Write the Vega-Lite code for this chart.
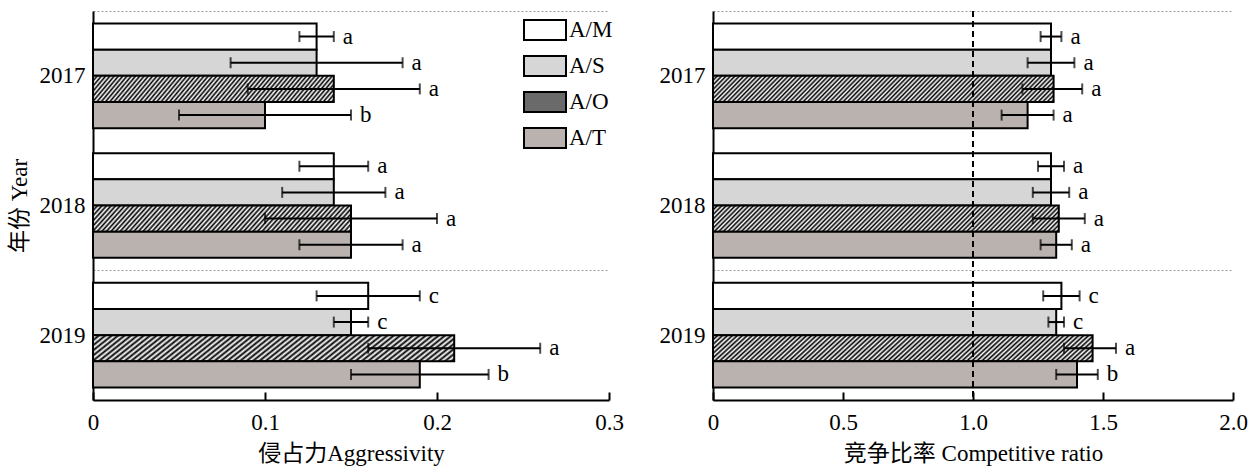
{
  "$schema": "https://vega.github.io/schema/vega-lite/v6.json",
  "padding": {"left": 8, "top": 0, "right": 5, "bottom": 5},
  "bounds": "flush",
  "spacing": 104,
  "config": {
    "font": "Liberation Serif",
    "view": {"stroke": null},
    "axis": {
      "labelFont": "Liberation Serif",
      "titleFont": "'Liberation Serif', 'Noto Sans CJK SC'",
      "labelFontSize": 23,
      "titleFontSize": 23,
      "titleFontWeight": "normal",
      "labelColor": "#000",
      "titleColor": "#000",
      "domainColor": "#000",
      "domainWidth": 2,
      "tickColor": "#000",
      "tickWidth": 2
    }
  },
  "datasets": {
    "agg": [
      {"year": "2017", "trt": "A/M", "v": 0.13, "lo": 0.12, "hi": 0.14, "sig": "a"},
      {"year": "2017", "trt": "A/S", "v": 0.13, "lo": 0.08, "hi": 0.18, "sig": "a"},
      {"year": "2017", "trt": "A/O", "v": 0.14, "lo": 0.09, "hi": 0.19, "sig": "a"},
      {"year": "2017", "trt": "A/T", "v": 0.10, "lo": 0.05, "hi": 0.15, "sig": "b"},
      {"year": "2018", "trt": "A/M", "v": 0.14, "lo": 0.12, "hi": 0.16, "sig": "a"},
      {"year": "2018", "trt": "A/S", "v": 0.14, "lo": 0.11, "hi": 0.17, "sig": "a"},
      {"year": "2018", "trt": "A/O", "v": 0.15, "lo": 0.10, "hi": 0.20, "sig": "a"},
      {"year": "2018", "trt": "A/T", "v": 0.15, "lo": 0.12, "hi": 0.18, "sig": "a"},
      {"year": "2019", "trt": "A/M", "v": 0.16, "lo": 0.13, "hi": 0.19, "sig": "c"},
      {"year": "2019", "trt": "A/S", "v": 0.15, "lo": 0.14, "hi": 0.16, "sig": "c"},
      {"year": "2019", "trt": "A/O", "v": 0.21, "lo": 0.16, "hi": 0.26, "sig": "a"},
      {"year": "2019", "trt": "A/T", "v": 0.19, "lo": 0.15, "hi": 0.23, "sig": "b"}
    ],
    "cr": [
      {"year": "2017", "trt": "A/M", "v": 1.30, "lo": 1.26, "hi": 1.34, "sig": "a"},
      {"year": "2017", "trt": "A/S", "v": 1.30, "lo": 1.21, "hi": 1.39, "sig": "a"},
      {"year": "2017", "trt": "A/O", "v": 1.31, "lo": 1.19, "hi": 1.42, "sig": "a"},
      {"year": "2017", "trt": "A/T", "v": 1.21, "lo": 1.11, "hi": 1.31, "sig": "a"},
      {"year": "2018", "trt": "A/M", "v": 1.30, "lo": 1.25, "hi": 1.35, "sig": "a"},
      {"year": "2018", "trt": "A/S", "v": 1.30, "lo": 1.23, "hi": 1.37, "sig": "a"},
      {"year": "2018", "trt": "A/O", "v": 1.33, "lo": 1.23, "hi": 1.43, "sig": "a"},
      {"year": "2018", "trt": "A/T", "v": 1.32, "lo": 1.26, "hi": 1.38, "sig": "a"},
      {"year": "2019", "trt": "A/M", "v": 1.34, "lo": 1.27, "hi": 1.41, "sig": "c"},
      {"year": "2019", "trt": "A/S", "v": 1.32, "lo": 1.29, "hi": 1.35, "sig": "c"},
      {"year": "2019", "trt": "A/O", "v": 1.46, "lo": 1.35, "hi": 1.55, "sig": "a"},
      {"year": "2019", "trt": "A/T", "v": 1.40, "lo": 1.32, "hi": 1.48, "sig": "b"}
    ]
  },
  "hconcat": [
    {
      "width": 516,
      "height": 389,
      "data": {"name": "agg"},
      "encoding": {
        "y": {
          "field": "year", "type": "nominal",
          "scale": {"domain": ["2017", "2018", "2019"], "paddingInner": 0, "paddingOuter": 0},
          "axis": {
            "title": "年份 Year", "titlePadding": 8, "labelPadding": 8, "ticks": false, "labelAngle": 0,
            "tickBand": "extent", "grid": true, "gridColor": "#9a9a9a", "gridDash": [2, 2], "gridWidth": 1,
            "gridOpacity": {"condition": {"test": "datum.value === '2017'", "value": 0}, "value": 1}
          }
        },
        "yOffset": {
          "field": "trt", "type": "nominal",
          "scale": {"domain": ["A/M", "A/S", "A/O", "A/T"], "paddingInner": 0, "paddingOuter": 0.476}
        }
      },
      "layer": [
        {
          "mark": {"type": "bar", "stroke": "#000", "strokeWidth": 2},
          "encoding": {
            "x": {
              "field": "v", "type": "quantitative",
              "scale": {"domain": [0, 0.3], "nice": false, "zero": true},
              "axis": {"title": "侵占力Aggressivity", "values": [0, 0.1, 0.2, 0.3], "labelExpr": "datum.value === 0 ? '0' : format(datum.value, '.1f')", "tickSize": -8, "labelPadding": 19, "titlePadding": 8, "grid": false, "labelFlush": false, "labelOverlap": false}
            },
            "fill": {
              "condition": {
                "test": "datum.trt === 'A/O'",
                "value": {"gradient": "linear", "x1": 0, "y1": 0, "x2": 1.1, "y2": 0.1, "stops": [
                  {"offset": 0, "color": "#000"}, {"offset": 0.008, "color": "#fff"},
                  {"offset": 0.016, "color": "#000"}, {"offset": 0.024, "color": "#fff"},
                  {"offset": 0.032, "color": "#000"}, {"offset": 0.04, "color": "#fff"},
                  {"offset": 0.048, "color": "#000"}, {"offset": 0.056, "color": "#fff"},
                  {"offset": 0.064, "color": "#000"}, {"offset": 0.072, "color": "#fff"},
                  {"offset": 0.08, "color": "#000"}, {"offset": 0.088, "color": "#fff"},
                  {"offset": 0.096, "color": "#000"}, {"offset": 0.104, "color": "#fff"},
                  {"offset": 0.112, "color": "#000"}, {"offset": 0.12, "color": "#fff"},
                  {"offset": 0.128, "color": "#000"}, {"offset": 0.136, "color": "#fff"},
                  {"offset": 0.144, "color": "#000"}, {"offset": 0.152, "color": "#fff"},
                  {"offset": 0.16, "color": "#000"}, {"offset": 0.168, "color": "#fff"},
                  {"offset": 0.176, "color": "#000"}, {"offset": 0.184, "color": "#fff"},
                  {"offset": 0.192, "color": "#000"}, {"offset": 0.2, "color": "#fff"},
                  {"offset": 0.208, "color": "#000"}, {"offset": 0.216, "color": "#fff"},
                  {"offset": 0.224, "color": "#000"}, {"offset": 0.232, "color": "#fff"},
                  {"offset": 0.24, "color": "#000"}, {"offset": 0.248, "color": "#fff"},
                  {"offset": 0.256, "color": "#000"}, {"offset": 0.264, "color": "#fff"},
                  {"offset": 0.272, "color": "#000"}, {"offset": 0.28, "color": "#fff"},
                  {"offset": 0.288, "color": "#000"}, {"offset": 0.296, "color": "#fff"},
                  {"offset": 0.304, "color": "#000"}, {"offset": 0.312, "color": "#fff"},
                  {"offset": 0.32, "color": "#000"}, {"offset": 0.328, "color": "#fff"},
                  {"offset": 0.336, "color": "#000"}, {"offset": 0.344, "color": "#fff"},
                  {"offset": 0.352, "color": "#000"}, {"offset": 0.36, "color": "#fff"},
                  {"offset": 0.368, "color": "#000"}, {"offset": 0.376, "color": "#fff"},
                  {"offset": 0.384, "color": "#000"}, {"offset": 0.392, "color": "#fff"},
                  {"offset": 0.4, "color": "#000"}, {"offset": 0.408, "color": "#fff"},
                  {"offset": 0.416, "color": "#000"}, {"offset": 0.424, "color": "#fff"},
                  {"offset": 0.432, "color": "#000"}, {"offset": 0.44, "color": "#fff"},
                  {"offset": 0.448, "color": "#000"}, {"offset": 0.456, "color": "#fff"},
                  {"offset": 0.464, "color": "#000"}, {"offset": 0.472, "color": "#fff"},
                  {"offset": 0.48, "color": "#000"}, {"offset": 0.488, "color": "#fff"},
                  {"offset": 0.496, "color": "#000"}, {"offset": 0.504, "color": "#fff"},
                  {"offset": 0.512, "color": "#000"}, {"offset": 0.52, "color": "#fff"},
                  {"offset": 0.528, "color": "#000"}, {"offset": 0.536, "color": "#fff"},
                  {"offset": 0.544, "color": "#000"}, {"offset": 0.552, "color": "#fff"},
                  {"offset": 0.56, "color": "#000"}, {"offset": 0.568, "color": "#fff"},
                  {"offset": 0.576, "color": "#000"}, {"offset": 0.584, "color": "#fff"},
                  {"offset": 0.592, "color": "#000"}, {"offset": 0.6, "color": "#fff"},
                  {"offset": 0.608, "color": "#000"}, {"offset": 0.616, "color": "#fff"},
                  {"offset": 0.624, "color": "#000"}, {"offset": 0.632, "color": "#fff"},
                  {"offset": 0.64, "color": "#000"}, {"offset": 0.648, "color": "#fff"},
                  {"offset": 0.656, "color": "#000"}, {"offset": 0.664, "color": "#fff"},
                  {"offset": 0.672, "color": "#000"}, {"offset": 0.68, "color": "#fff"},
                  {"offset": 0.688, "color": "#000"}, {"offset": 0.696, "color": "#fff"},
                  {"offset": 0.704, "color": "#000"}, {"offset": 0.712, "color": "#fff"},
                  {"offset": 0.72, "color": "#000"}, {"offset": 0.728, "color": "#fff"},
                  {"offset": 0.736, "color": "#000"}, {"offset": 0.744, "color": "#fff"},
                  {"offset": 0.752, "color": "#000"}, {"offset": 0.76, "color": "#fff"},
                  {"offset": 0.768, "color": "#000"}, {"offset": 0.776, "color": "#fff"},
                  {"offset": 0.784, "color": "#000"}, {"offset": 0.792, "color": "#fff"},
                  {"offset": 0.8, "color": "#000"}, {"offset": 0.808, "color": "#fff"},
                  {"offset": 0.816, "color": "#000"}, {"offset": 0.824, "color": "#fff"},
                  {"offset": 0.832, "color": "#000"}, {"offset": 0.84, "color": "#fff"},
                  {"offset": 0.848, "color": "#000"}, {"offset": 0.856, "color": "#fff"},
                  {"offset": 0.864, "color": "#000"}, {"offset": 0.872, "color": "#fff"},
                  {"offset": 0.88, "color": "#000"}, {"offset": 0.888, "color": "#fff"},
                  {"offset": 0.896, "color": "#000"}, {"offset": 0.904, "color": "#fff"},
                  {"offset": 0.912, "color": "#000"}, {"offset": 0.92, "color": "#fff"},
                  {"offset": 0.928, "color": "#000"}, {"offset": 0.936, "color": "#fff"},
                  {"offset": 0.944, "color": "#000"}, {"offset": 0.952, "color": "#fff"},
                  {"offset": 0.96, "color": "#000"}, {"offset": 0.968, "color": "#fff"},
                  {"offset": 0.976, "color": "#000"}, {"offset": 0.984, "color": "#fff"},
                  {"offset": 0.992, "color": "#000"}, {"offset": 1, "color": "#fff"}
                ]}
              },
              "field": "trt", "type": "nominal",
              "scale": {"domain": ["A/M", "A/S", "A/O", "A/T"], "range": ["#ffffff", "#d6d6d6", "#6a6a6a", "#b9b2ae"]},
              "legend": {
                "orient": "none", "legendX": 430, "legendY": -3, "title": null, "padding": 0,
                "symbolType": "M-1,-0.476H1V0.476H-1Z", "symbolSize": 1764,
                "symbolStrokeColor": "#000", "symbolStrokeWidth": 2, "symbolOpacity": 1,
                "labelFont": "Liberation Serif", "labelFontSize": 23, "labelColor": "#000",
                "labelOffset": 2, "rowPadding": -32
              }
            }
          }
        },
        {
          "mark": {"type": "rule", "color": "#000", "strokeWidth": 2},
          "encoding": {
            "x": {"field": "lo", "type": "quantitative", "title": "侵占力Aggressivity"},
            "x2": {"field": "hi"}
          }
        },
        {
          "mark": {"type": "tick", "color": "#000", "orient": "vertical", "size": 11, "thickness": 2},
          "encoding": {"x": {"field": "lo", "type": "quantitative", "title": "侵占力Aggressivity"}}
        },
        {
          "mark": {"type": "tick", "color": "#000", "orient": "vertical", "size": 11, "thickness": 2},
          "encoding": {"x": {"field": "hi", "type": "quantitative", "title": "侵占力Aggressivity"}}
        },
        {
          "mark": {"type": "text", "align": "left", "baseline": "middle", "dx": 9, "fontSize": 23, "font": "Liberation Serif", "color": "#000"},
          "encoding": {
            "x": {"field": "hi", "type": "quantitative", "title": "侵占力Aggressivity"},
            "text": {"field": "sig"}
          }
        }
      ]
    },
    {
      "width": 520,
      "height": 389,
      "layer": [
        {
          "data": {"name": "cr"},
          "encoding": {
            "y": {
              "field": "year", "type": "nominal",
              "scale": {"domain": ["2017", "2018", "2019"], "paddingInner": 0, "paddingOuter": 0},
              "axis": {
                "title": null, "labelPadding": 8, "ticks": false, "labelAngle": 0,
                "tickBand": "extent", "grid": true, "gridColor": "#9a9a9a", "gridDash": [2, 2], "gridWidth": 1,
                "gridOpacity": {"condition": {"test": "datum.value === '2017'", "value": 0}, "value": 1}
              }
            },
            "yOffset": {
              "field": "trt", "type": "nominal",
              "scale": {"domain": ["A/M", "A/S", "A/O", "A/T"], "paddingInner": 0, "paddingOuter": 0.476}
            }
          },
          "layer": [
            {
              "mark": {"type": "bar", "stroke": "#000", "strokeWidth": 2},
              "encoding": {
                "x": {
                  "field": "v", "type": "quantitative",
                  "scale": {"domain": [0, 2], "nice": false, "zero": true},
                  "axis": {"title": "竞争比率 Competitive ratio", "values": [0, 0.5, 1, 1.5, 2], "labelExpr": "datum.value === 0 ? '0' : format(datum.value, '.1f')", "tickSize": -8, "labelPadding": 19, "titlePadding": 8, "grid": false, "labelFlush": false, "labelOverlap": false}
                },
                "fill": {
                  "condition": {
                    "test": "datum.trt === 'A/O'",
                    "value": {"gradient": "linear", "x1": 0, "y1": 0, "x2": 1.08, "y2": 0.081, "stops": [
                      {"offset": 0, "color": "#000"}, {"offset": 0.006, "color": "#fff"},
                      {"offset": 0.012, "color": "#000"}, {"offset": 0.018, "color": "#fff"},
                      {"offset": 0.024, "color": "#000"}, {"offset": 0.03, "color": "#fff"},
                      {"offset": 0.036, "color": "#000"}, {"offset": 0.042, "color": "#fff"},
                      {"offset": 0.048, "color": "#000"}, {"offset": 0.054, "color": "#fff"},
                      {"offset": 0.06, "color": "#000"}, {"offset": 0.066, "color": "#fff"},
                      {"offset": 0.072, "color": "#000"}, {"offset": 0.078, "color": "#fff"},
                      {"offset": 0.084, "color": "#000"}, {"offset": 0.09, "color": "#fff"},
                      {"offset": 0.096, "color": "#000"}, {"offset": 0.102, "color": "#fff"},
                      {"offset": 0.108, "color": "#000"}, {"offset": 0.114, "color": "#fff"},
                      {"offset": 0.12, "color": "#000"}, {"offset": 0.126, "color": "#fff"},
                      {"offset": 0.132, "color": "#000"}, {"offset": 0.138, "color": "#fff"},
                      {"offset": 0.144, "color": "#000"}, {"offset": 0.15, "color": "#fff"},
                      {"offset": 0.156, "color": "#000"}, {"offset": 0.162, "color": "#fff"},
                      {"offset": 0.168, "color": "#000"}, {"offset": 0.174, "color": "#fff"},
                      {"offset": 0.18, "color": "#000"}, {"offset": 0.186, "color": "#fff"},
                      {"offset": 0.192, "color": "#000"}, {"offset": 0.198, "color": "#fff"},
                      {"offset": 0.204, "color": "#000"}, {"offset": 0.21, "color": "#fff"},
                      {"offset": 0.216, "color": "#000"}, {"offset": 0.222, "color": "#fff"},
                      {"offset": 0.228, "color": "#000"}, {"offset": 0.234, "color": "#fff"},
                      {"offset": 0.24, "color": "#000"}, {"offset": 0.246, "color": "#fff"},
                      {"offset": 0.252, "color": "#000"}, {"offset": 0.258, "color": "#fff"},
                      {"offset": 0.264, "color": "#000"}, {"offset": 0.27, "color": "#fff"},
                      {"offset": 0.276, "color": "#000"}, {"offset": 0.282, "color": "#fff"},
                      {"offset": 0.288, "color": "#000"}, {"offset": 0.294, "color": "#fff"},
                      {"offset": 0.3, "color": "#000"}, {"offset": 0.306, "color": "#fff"},
                      {"offset": 0.312, "color": "#000"}, {"offset": 0.318, "color": "#fff"},
                      {"offset": 0.324, "color": "#000"}, {"offset": 0.33, "color": "#fff"},
                      {"offset": 0.336, "color": "#000"}, {"offset": 0.342, "color": "#fff"},
                      {"offset": 0.348, "color": "#000"}, {"offset": 0.354, "color": "#fff"},
                      {"offset": 0.36, "color": "#000"}, {"offset": 0.366, "color": "#fff"},
                      {"offset": 0.372, "color": "#000"}, {"offset": 0.378, "color": "#fff"},
                      {"offset": 0.384, "color": "#000"}, {"offset": 0.39, "color": "#fff"},
                      {"offset": 0.396, "color": "#000"}, {"offset": 0.402, "color": "#fff"},
                      {"offset": 0.408, "color": "#000"}, {"offset": 0.414, "color": "#fff"},
                      {"offset": 0.42, "color": "#000"}, {"offset": 0.426, "color": "#fff"},
                      {"offset": 0.432, "color": "#000"}, {"offset": 0.438, "color": "#fff"},
                      {"offset": 0.444, "color": "#000"}, {"offset": 0.45, "color": "#fff"},
                      {"offset": 0.456, "color": "#000"}, {"offset": 0.462, "color": "#fff"},
                      {"offset": 0.468, "color": "#000"}, {"offset": 0.474, "color": "#fff"},
                      {"offset": 0.48, "color": "#000"}, {"offset": 0.486, "color": "#fff"},
                      {"offset": 0.492, "color": "#000"}, {"offset": 0.498, "color": "#fff"},
                      {"offset": 0.504, "color": "#000"}, {"offset": 0.51, "color": "#fff"},
                      {"offset": 0.516, "color": "#000"}, {"offset": 0.522, "color": "#fff"},
                      {"offset": 0.528, "color": "#000"}, {"offset": 0.534, "color": "#fff"},
                      {"offset": 0.54, "color": "#000"}, {"offset": 0.546, "color": "#fff"},
                      {"offset": 0.552, "color": "#000"}, {"offset": 0.558, "color": "#fff"},
                      {"offset": 0.564, "color": "#000"}, {"offset": 0.57, "color": "#fff"},
                      {"offset": 0.576, "color": "#000"}, {"offset": 0.582, "color": "#fff"},
                      {"offset": 0.588, "color": "#000"}, {"offset": 0.594, "color": "#fff"},
                      {"offset": 0.6, "color": "#000"}, {"offset": 0.606, "color": "#fff"},
                      {"offset": 0.612, "color": "#000"}, {"offset": 0.618, "color": "#fff"},
                      {"offset": 0.624, "color": "#000"}, {"offset": 0.63, "color": "#fff"},
                      {"offset": 0.636, "color": "#000"}, {"offset": 0.642, "color": "#fff"},
                      {"offset": 0.648, "color": "#000"}, {"offset": 0.654, "color": "#fff"},
                      {"offset": 0.66, "color": "#000"}, {"offset": 0.666, "color": "#fff"},
                      {"offset": 0.672, "color": "#000"}, {"offset": 0.678, "color": "#fff"},
                      {"offset": 0.684, "color": "#000"}, {"offset": 0.69, "color": "#fff"},
                      {"offset": 0.696, "color": "#000"}, {"offset": 0.702, "color": "#fff"},
                      {"offset": 0.708, "color": "#000"}, {"offset": 0.714, "color": "#fff"},
                      {"offset": 0.72, "color": "#000"}, {"offset": 0.726, "color": "#fff"},
                      {"offset": 0.732, "color": "#000"}, {"offset": 0.738, "color": "#fff"},
                      {"offset": 0.744, "color": "#000"}, {"offset": 0.75, "color": "#fff"},
                      {"offset": 0.756, "color": "#000"}, {"offset": 0.762, "color": "#fff"},
                      {"offset": 0.768, "color": "#000"}, {"offset": 0.774, "color": "#fff"},
                      {"offset": 0.78, "color": "#000"}, {"offset": 0.786, "color": "#fff"},
                      {"offset": 0.792, "color": "#000"}, {"offset": 0.798, "color": "#fff"},
                      {"offset": 0.804, "color": "#000"}, {"offset": 0.81, "color": "#fff"},
                      {"offset": 0.816, "color": "#000"}, {"offset": 0.822, "color": "#fff"},
                      {"offset": 0.828, "color": "#000"}, {"offset": 0.834, "color": "#fff"},
                      {"offset": 0.84, "color": "#000"}, {"offset": 0.846, "color": "#fff"},
                      {"offset": 0.852, "color": "#000"}, {"offset": 0.858, "color": "#fff"},
                      {"offset": 0.864, "color": "#000"}, {"offset": 0.87, "color": "#fff"},
                      {"offset": 0.876, "color": "#000"}, {"offset": 0.882, "color": "#fff"},
                      {"offset": 0.888, "color": "#000"}, {"offset": 0.894, "color": "#fff"},
                      {"offset": 0.9, "color": "#000"}, {"offset": 0.906, "color": "#fff"},
                      {"offset": 0.912, "color": "#000"}, {"offset": 0.918, "color": "#fff"},
                      {"offset": 0.924, "color": "#000"}, {"offset": 0.93, "color": "#fff"},
                      {"offset": 0.936, "color": "#000"}, {"offset": 0.942, "color": "#fff"},
                      {"offset": 0.948, "color": "#000"}, {"offset": 0.954, "color": "#fff"},
                      {"offset": 0.96, "color": "#000"}, {"offset": 0.966, "color": "#fff"},
                      {"offset": 0.972, "color": "#000"}, {"offset": 0.978, "color": "#fff"},
                      {"offset": 0.984, "color": "#000"}, {"offset": 0.99, "color": "#fff"},
                      {"offset": 0.996, "color": "#000"}, {"offset": 1, "color": "#fff"}
                    ]}
                  },
                  "field": "trt", "type": "nominal", "legend": null,
                  "scale": {"domain": ["A/M", "A/S", "A/O", "A/T"], "range": ["#ffffff", "#d6d6d6", "#6a6a6a", "#b9b2ae"]}
                }
              }
            },
            {
              "mark": {"type": "rule", "color": "#000", "strokeWidth": 2},
              "encoding": {
                "x": {"field": "lo", "type": "quantitative", "title": "竞争比率 Competitive ratio"},
                "x2": {"field": "hi"}
              }
            },
            {
              "mark": {"type": "tick", "color": "#000", "orient": "vertical", "size": 11, "thickness": 2},
              "encoding": {"x": {"field": "lo", "type": "quantitative", "title": "竞争比率 Competitive ratio"}}
            },
            {
              "mark": {"type": "tick", "color": "#000", "orient": "vertical", "size": 11, "thickness": 2},
              "encoding": {"x": {"field": "hi", "type": "quantitative", "title": "竞争比率 Competitive ratio"}}
            },
            {
              "mark": {"type": "text", "align": "left", "baseline": "middle", "dx": 9, "fontSize": 23, "font": "Liberation Serif", "color": "#000"},
              "encoding": {
                "x": {"field": "hi", "type": "quantitative", "title": "竞争比率 Competitive ratio"},
                "text": {"field": "sig"}
              }
            }
          ]
        },
        {
          "data": {"values": [{"ref": 1}]},
          "mark": {"type": "rule", "color": "#000", "strokeWidth": 2, "strokeDash": [6, 4]},
          "encoding": {"x": {"field": "ref", "type": "quantitative", "title": "竞争比率 Competitive ratio"}}
        }
      ]
    }
  ]
}
